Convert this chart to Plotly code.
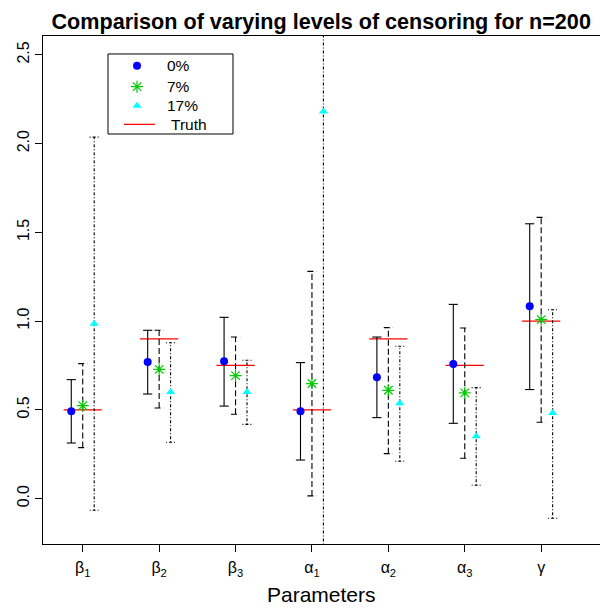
import plotly.graph_objects as go

# Parameter labels (x positions 1..7)
params = ['β<sub>1</sub>', 'β<sub>2</sub>', 'β<sub>3</sub>', 'α<sub>1</sub>',
          'α<sub>2</sub>', 'α<sub>3</sub>', 'γ']
truth = [0.5, 0.9, 0.75, 0.5, 0.9, 0.75, 1.0]

# 0% censoring
est_0 = [0.492, 0.769, 0.773, 0.492, 0.683, 0.758, 1.083]
lo_0 = [0.313, 0.589, 0.521, 0.217, 0.456, 0.424, 0.614]
hi_0 = [0.670, 0.948, 1.021, 0.766, 0.910, 1.094, 1.548]

# 7% censoring
est_7 = [0.524, 0.728, 0.693, 0.648, 0.610, 0.595, 1.008]
lo_7 = [0.287, 0.510, 0.475, 0.015, 0.253, 0.227, 0.430]
hi_7 = [0.760, 0.948, 0.910, 1.280, 0.963, 0.961, 1.584]

# 17% censoring
est_17 = [0.985, 0.600, 0.600, 2.180, 0.537, 0.351, 0.482]
lo_17 = [-0.066, 0.317, 0.418, -0.800, 0.210, 0.075, -0.111]
hi_17 = [2.036, 0.878, 0.779, 4.000, 0.858, 0.625, 1.064]

legend_names = ['0%', '7%', '17%']

xpos = list(range(1, len(params) + 1))
CAP = 0.06

fig = go.Figure()

# truth segments
tx, ty = [], []
for k, t in zip(xpos, truth):
    tx += [k - 0.25, k + 0.25, None]
    ty += [t, t, None]
fig.add_trace(go.Scatter(x=tx, y=ty, mode='lines', line=dict(color='red', width=1.2),
                         hoverinfo='skip'))

series = [
    (-0.15, est_0, lo_0, hi_0, 'solid',
     dict(symbol='circle', size=8, color='blue')),
    (0.0, est_7, lo_7, hi_7, '6px,3px',
     dict(symbol='asterisk-open', size=10, color='#00cc00', line=dict(color='#00cc00', width=1.2))),
    (0.15, est_17, lo_17, hi_17, '1px,2px,3px,2px',
     dict(symbol='triangle-up', size=8, color='cyan')),
]

for off, est, lo, hi, dash, mk in series:
    lx, ly = [], []
    for k, a, b in zip(xpos, lo, hi):
        x = k + off
        lx += [x, x, None, x - CAP, x + CAP, None, x - CAP, x + CAP, None]
        ly += [a, b, None, a, a, None, b, b, None]
    fig.add_trace(go.Scatter(x=lx, y=ly, mode='lines',
                             line=dict(color='black', width=1.1, dash=dash),
                             hoverinfo='skip'))

for off, est, lo, hi, dash, mk in series:
    fig.add_trace(go.Scatter(x=[k + off for k in xpos], y=est, mode='markers',
                             marker=mk, hoverinfo='y'))

# hand-drawn legend (R style box) on an overlay axis in 0..1 plot units
LEG_X = 0.1688
LEG_Y = [0.9415, 0.9002, 0.8628]
for (off, est, lo, hi, dash, mk), ly_ in zip(series, LEG_Y):
    fig.add_trace(go.Scatter(x=[LEG_X], y=[ly_], mode='markers', marker=mk,
                             xaxis='x2', yaxis='y2', cliponaxis=False, hoverinfo='skip'))

annotations = [dict(text=n, xref='paper', yref='paper', x=0.219, y=ly_,
                    xanchor='left', yanchor='middle', showarrow=False,
                    font=dict(size=15.5))
               for n, ly_ in zip(legend_names, LEG_Y)]
annotations.append(dict(text='Truth', xref='paper', yref='paper', x=0.2262, y=0.8262,
                        xanchor='left', yanchor='middle', showarrow=False,
                        font=dict(size=15.5)))
annotations.append(dict(text='Parameters', xref='paper', yref='paper',
                        x=0.5, y=-0.126, xanchor='center', yanchor='bottom',
                        showarrow=False, font=dict(size=21)))

shapes = [
    dict(type='rect', xref='paper', yref='paper', x0=0.1167, x1=0.3411,
         y0=0.8071, y1=0.9646, line=dict(color='black', width=1), layer='below'),
    dict(type='line', xref='paper', yref='paper', x0=0.1454, x1=0.2011,
         y0=0.8262, y1=0.8262, line=dict(color='red', width=1.2)),
]

# page body adds an 8px offset, so the figure is 600x600
fig.update_layout(
    width=600, height=600,
    margin=dict(l=35, r=8, t=28, b=64, autoexpand=False),
    plot_bgcolor='white', paper_bgcolor='white',
    font=dict(family='Liberation Sans, Arial, sans-serif', size=15, color='black'),
    title=dict(text='<b>Comparison of varying levels of censoring for n=200</b>',
               x=0.522, xanchor='center', y=0.977, yanchor='middle',
               font=dict(size=21.6)),
    showlegend=False,
    xaxis=dict(range=[0.48, 7.77], tickmode='array', tickvals=xpos, ticktext=params,
               showline=True, linecolor='black', linewidth=1, mirror=True,
               ticks='outside', ticklen=7, tickcolor='black', showgrid=False,
               zeroline=False, ticklabelstandoff=2, tickfont=dict(size=16),
               automargin=False),
    yaxis=dict(range=[-0.256, 2.606], tickvals=[0, 0.5, 1.0, 1.5, 2.0, 2.5],
               ticktext=['0.0', '0.5', '1.0', '1.5', '2.0', '2.5'],
               tickangle=-90,
               showline=True, linecolor='black', linewidth=1, mirror=True,
               ticks='outside', ticklen=7, tickcolor='black', showgrid=False,
               zeroline=False, ticklabelstandoff=0, tickfont=dict(size=16),
               automargin=False),
    xaxis2=dict(overlaying='x', range=[0, 1], visible=False, fixedrange=True),
    yaxis2=dict(overlaying='y', range=[0, 1], visible=False, fixedrange=True),
    shapes=shapes,
    annotations=annotations,
)

fig.write_html("out.html")
